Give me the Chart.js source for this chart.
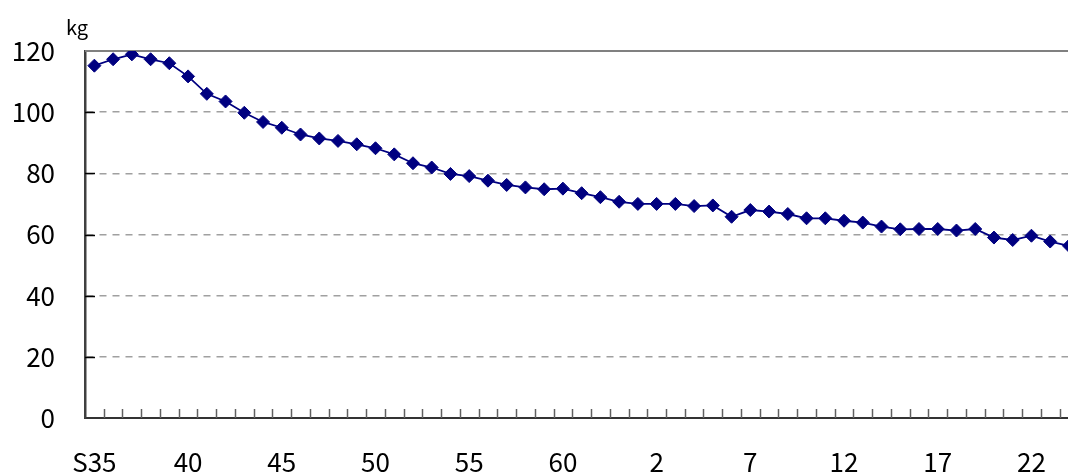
<!DOCTYPE html>
<html>
<head>
<meta charset="utf-8">
<script src="https://cdn.jsdelivr.net/npm/chart.js@4/dist/chart.umd.min.js"></script>
<style>
  html, body { margin: 0; padding: 0; background: #fff; overflow: hidden; }
  #wrap { width: 1090px; height: 475px; }
</style>
</head>
<body>
<div id="wrap"><canvas id="c" width="1090" height="475"></canvas></div>
<script>
// Fiscal years S35 (1960) .. H24 (2012)
const categories = ['S35','36','37','38','39','40','41','42','43','44','45','46','47','48','49',
  '50','51','52','53','54','55','56','57','58','59','60','61','62','63',
  'H1','2','3','4','5','6','7','8','9','10','11','12','13','14','15','16','17','18','19','20','21','22','23','24'];
// Per-capita consumption (kg)
const consumption = [115.2,117.3,118.9,117.3,116.0,111.7,106.0,103.5,99.8,96.8,94.9,92.7,91.4,90.6,89.5,
  88.2,86.2,83.3,81.9,79.8,79.1,77.6,76.2,75.4,74.8,75.0,73.5,72.2,70.7,
  70.0,70.0,70.0,69.3,69.5,65.8,68.0,67.5,66.7,65.3,65.3,64.5,63.9,62.6,61.7,61.8,61.8,61.3,61.8,59.0,58.2,59.6,57.7,56.3];
const xTickLabels = ['S35','40','45','50','55','60','2','7','12','17','22'];
const yTicks = [0,20,40,60,80,100,120];
const unitLabel = 'kg';

const FONT = '"Noto Sans CJK JP", "Noto Sans", sans-serif';

const framePlugin = {
  id: 'frame',
  beforeDatasetsDraw(chart) {
    const {ctx, chartArea, scales} = chart;
    const x = scales.x, y = scales.y;
    ctx.save();
    // top border
    ctx.strokeStyle = '#808080';
    ctx.lineWidth = 2;
    ctx.beginPath();
    ctx.moveTo(chartArea.left, chartArea.top);
    ctx.lineTo(chartArea.right, chartArea.top);
    ctx.stroke();
    // y inward ticks
    ctx.strokeStyle = '#000';
    ctx.lineWidth = 1.5;
    yTicks.forEach(v => {
      if (v === 0 || v === 120) return;
      const py = Math.round(y.getPixelForValue(v)) + 0.5;
      ctx.beginPath();
      ctx.moveTo(chartArea.left, py);
      ctx.lineTo(chartArea.left + 10, py);
      ctx.stroke();
    });
    // x inward ticks at category boundaries
    ctx.strokeStyle = '#606060';
    ctx.lineWidth = 1.5;
    const w = x.getPixelForValue(1) - x.getPixelForValue(0);
    for (let i = 1; i <= categories.length; i++) {
      const px = Math.round(x.getPixelForValue(i - 1) + w / 2) + 0.5;
      ctx.beginPath();
      ctx.moveTo(px, chartArea.bottom);
      ctx.lineTo(px, chartArea.bottom - 9);
      ctx.stroke();
    }
    ctx.restore();
  },
  afterDraw(chart) {
    const {ctx, chartArea} = chart;
    ctx.save();
    ctx.fillStyle = '#000';
    ctx.font = '20px ' + FONT;
    ctx.textAlign = 'center';
    ctx.textBaseline = 'middle';
    ctx.fillText(unitLabel, chartArea.left - 8, 27);
    ctx.restore();
  }
};

new Chart(document.getElementById('c'), {
  type: 'line',
  data: {
    labels: categories,
    datasets: [{
      data: consumption,
      borderColor: '#000080',
      backgroundColor: '#000080',
      borderWidth: 1.8,
      pointStyle: 'rectRot',
      pointRadius: 6.5,
      pointBorderWidth: 1,
      pointBackgroundColor: '#000080',
      pointBorderColor: '#000080',
      tension: 0,
      fill: false
    }]
  },
  options: {
    responsive: false,
    animation: false,
    devicePixelRatio: 1,
    layout: { padding: { top: 51, right: 3.5, left: 0, bottom: 0 } },
    plugins: { legend: { display: false }, tooltip: { enabled: false }, title: { display: false } },
    scales: {
      x: {
        type: 'category',
        offset: true,
        grid: { display: false },
        border: { display: true, color: '#333333', width: 2 },
        afterFit(s) { s.height = 57; },
        ticks: {
          autoSkip: false,
          maxRotation: 0,
          padding: 21,
          color: '#000',
          font: { family: FONT, size: 26 },
          callback(val, idx) {
            return idx % 5 === 0 ? xTickLabels[idx / 5] : '';
          }
        }
      },
      y: {
        min: 0,
        max: 120,
        afterFit(s) { s.width = 85; },
        afterBuildTicks(s) { s.ticks = yTicks.map(v => ({ value: v })); },
        grid: {
          drawTicks: false,
          color: ctx => (ctx.tick && (ctx.tick.value === 0 || ctx.tick.value === 120)) ? 'rgba(0,0,0,0)' : '#a0a0a0',
          lineWidth: 1.5
        },
        border: { display: true, color: '#404040', width: 2.5, dash: [7, 6] },
        ticks: {
          padding: 30,
          color: '#000',
          font: { family: FONT, size: 26 }
        }
      }
    }
  },
  plugins: [framePlugin]
});
</script>
</body>
</html>
